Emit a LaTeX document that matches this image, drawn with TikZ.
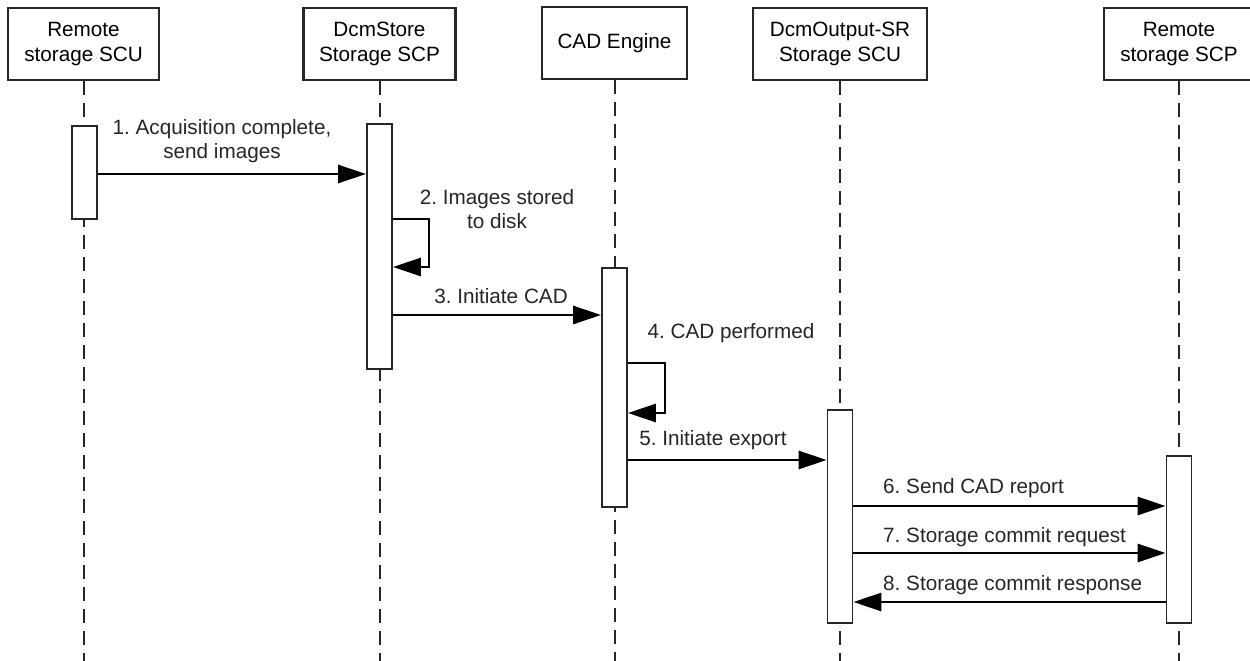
\documentclass[tikz,border=0pt]{standalone}
\usepackage{fontspec}
\setmainfont{Liberation Sans}
\usetikzlibrary{arrows.meta}

\begin{document}
\frenchspacing
\begin{tikzpicture}[x=1pt,y=-1pt,
  font=\fontsize{20.7}{24.5}\selectfont,
  actor/.style={draw=black!85, line width=2.2pt, fill=white, minimum height=72pt,
    align=center, inner sep=0pt},
  life/.style={draw=black!85, line width=2pt, dash pattern=on 14pt off 8pt},
  bar/.style={draw=black!85, line width=1.8pt, fill=white, minimum width=25pt, inner sep=0pt},
  msg/.style={draw=black, line width=2.8pt, -{Triangle[length=28pt,width=18pt]}},
  lbl/.style={inner sep=0pt, align=center, text=black!85},
]
\useasboundingbox (0,0) rectangle (1250,661);
\clip (0,0) rectangle (1250,661);
\fill[white] (0,0) rectangle (1250,661);

% participants
\node[actor, minimum width=151pt] (p1) at (83.5,44) {Remote\\storage SCU};
\node[actor, minimum width=152pt] (p2) at (379.5,44) {DcmStore\\Storage SCP};
\node[actor, minimum width=145pt] (p3) at (614.5,43) {CAD Engine};
\node[actor, minimum width=174pt] (p4) at (840,44) {DcmOutput-SR\\Storage SCU};
\node[actor, minimum width=150pt] (p5) at (1179,44) {Remote\\storage SCP};

% bottom ends of the lifelines
\coordinate (e1) at (p1.center |- 0,661);
\coordinate (e2) at (p2.center |- 0,661);
\coordinate (e3) at (p3.center |- 0,661);
\coordinate (e4) at (p4.center |- 0,661);
\coordinate (e5) at (p5.center |- 0,661);

% lifelines
\draw[life] (p1.south) -- (e1);
\draw[life] (p2.south) -- (e2);
\draw[life] (p3.south) -- (e3);
\draw[life] (p4.south) -- (e4);
\draw[life] (p5.south) -- (e5);

% activation bars
\node[bar, minimum height=93pt]  (b1) at (84.5,172.5) {};
\node[bar, minimum height=245pt] (b2) at (379.5,246.5) {};
\node[bar, minimum height=239pt] (b3) at (614.5,387.5) {};
\node[bar, minimum height=213pt] (b4) at (840,516.5) {};
\node[bar, minimum height=167pt] (b5) at (1179,539.5) {};

% messages
\draw[msg] (b1.east |- 0,174) -- (b2.west |- 0,174);
\node[lbl] (t1) at (222,141) {1. Acquisition complete,\\send images};

\coordinate (k2) at (429,267);
\draw[msg] (b2.east |- 0,219) -| (k2) -- (b2.east |- k2);
\node[lbl] (t2) at (497,209) {2. Images stored\\to disk};

\draw[msg] (b2.east |- 0,315) -- (b3.west |- 0,315);
\node[lbl] (t3) at (501,296) {3. Initiate CAD};

\coordinate (k4) at (665,413);
\draw[msg] (b3.east |- 0,363) -| (k4) -- (b3.east |- k4);
\node[lbl] (t4) at (731,333) {4. CAD performed};

\draw[msg] (b3.east |- 0,460) -- (b4.west |- 0,460);
\node[lbl] (t5) at (713,440) {5. Initiate export};

\draw[msg] (b4.east |- 0,506) -- (b5.west |- 0,506);
\node[lbl, anchor=west] (t6) at (883,488) {6. Send CAD report};

\draw[msg] (b4.east |- 0,553) -- (b5.west |- 0,553);
\node[lbl, anchor=west] (t7) at (883,537) {7. Storage commit request};

\draw[msg] (b5.west |- 0,602) -- (b4.east |- 0,602);
\node[lbl, anchor=west] (t8) at (883,585) {8. Storage commit response};
\end{tikzpicture}
\end{document}
